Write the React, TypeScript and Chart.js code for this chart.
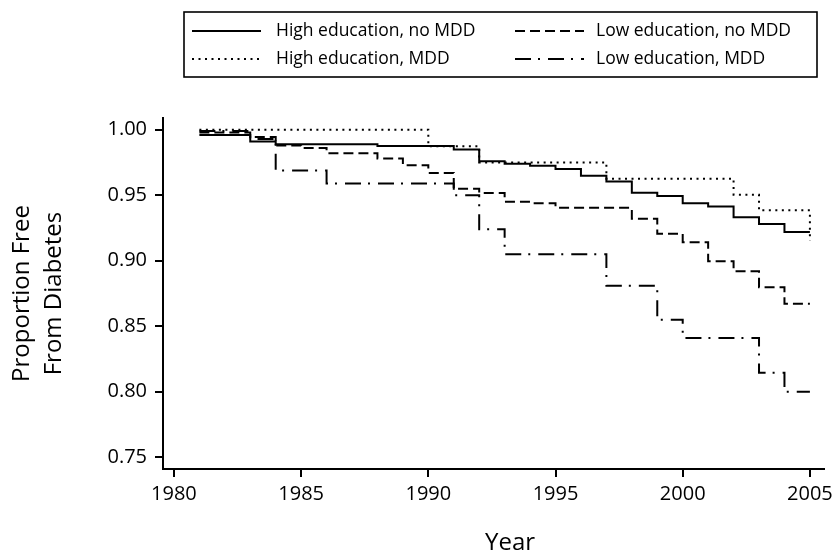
import React, { useEffect, useRef } from "react";
import { Chart, registerables } from "chart.js";

Chart.register(...registerables);

// ---- Data ----
const xTickValues = [1980, 1985, 1990, 1995, 2000, 2005];
const yTickValues = [0.75, 0.8, 0.85, 0.9, 0.95, 1.0];

const seriesLabels = [
  "High education, no MDD",
  "High education, MDD",
  "Low education, no MDD",
  "Low education, MDD",
];
const xAxisTitle = "Year";
const yAxisTitle = ["Proportion Free", "From Diabetes"];

const highNoMddYears = [1981, 1983, 1984, 1988, 1991, 1992, 1993, 1994, 1995, 1996, 1997, 1998, 1999, 2000, 2001, 2002, 2003, 2004, 2005];
const highNoMddValues = [0.996, 0.991, 0.989, 0.9876, 0.985, 0.976, 0.974, 0.9725, 0.97, 0.965, 0.9605, 0.952, 0.9495, 0.944, 0.9415, 0.9333, 0.928, 0.922, 0.922];

const highMddYears = [1981, 1990, 1992, 1997, 2002, 2003, 2005];
const highMddValues = [1.0, 0.9874, 0.975, 0.9627, 0.9504, 0.9385, 0.915];

const lowNoMddYears = [1981, 1983, 1984, 1985, 1986, 1988, 1989, 1990, 1991, 1992, 1993, 1994, 1995, 1998, 1999, 2000, 2001, 2002, 2003, 2004, 2005];
const lowNoMddValues = [0.998, 0.9945, 0.988, 0.986, 0.982, 0.978, 0.973, 0.967, 0.955, 0.9517, 0.945, 0.944, 0.9405, 0.932, 0.9206, 0.9142, 0.8997, 0.892, 0.8798, 0.8671, 0.8671];

const lowMddYears = [1981, 1983, 1984, 1986, 1991, 1992, 1993, 1997, 1999, 2000, 2003, 2004, 2005];
const lowMddValues = [0.999, 0.993, 0.969, 0.959, 0.95, 0.924, 0.905, 0.881, 0.855, 0.841, 0.8144, 0.8, 0.8];

// ---- Styles ----
const FONT = "'Open Sans', 'DejaVu Sans', sans-serif";
const INK = "#000000";
const dashPatterns = [[], [2, 4.5], [10, 5], [16, 7, 2, 8]];

const toPoints = (xs: number[], ys: number[]) => xs.map((x, i) => ({ x, y: ys[i] }));

const legendPlugin = {
  id: "boxLegend",
  afterDraw(chart: any) {
    const ctx = chart.ctx as CanvasRenderingContext2D;
    ctx.save();
    ctx.strokeStyle = INK;
    ctx.lineWidth = 1.6;
    ctx.setLineDash([]);
    ctx.strokeRect(184, 12, 633, 65);
    const cols = [{ lx: 192, tx: 276 }, { lx: 515, tx: 596 }];
    const rows = [31, 59];
    const order = [
      { ds: 0, c: 0, r: 0 },
      { ds: 1, c: 0, r: 1 },
      { ds: 2, c: 1, r: 0 },
      { ds: 3, c: 1, r: 1 },
    ];
    ctx.font = `17.5px ${FONT}`;
    ctx.textBaseline = "middle";
    ctx.textAlign = "left";
    ctx.fillStyle = INK;
    for (const o of order) {
      const col = cols[o.c];
      const y = rows[o.r];
      ctx.setLineDash(dashPatterns[o.ds]);
      ctx.lineWidth = 2;
      ctx.beginPath();
      ctx.moveTo(col.lx, y);
      ctx.lineTo(col.lx + 69, y);
      ctx.stroke();
      ctx.setLineDash([]);
      ctx.fillText(seriesLabels[o.ds], col.tx, y);
    }
    // x-axis title
    ctx.font = `24px ${FONT}`;
    ctx.textAlign = "center";
    ctx.fillText(xAxisTitle, 510, 543);
    ctx.restore();
  },
};

export default function App() {
  const ref = useRef<HTMLCanvasElement | null>(null);
  useEffect(() => {
    if (!ref.current) return;
    const series = [
      toPoints(highNoMddYears, highNoMddValues),
      toPoints(highMddYears, highMddValues),
      toPoints(lowNoMddYears, lowNoMddValues),
      toPoints(lowMddYears, lowMddValues),
    ];
    const chart = new Chart(ref.current, {
      type: "line",
      data: {
        datasets: series.map((data, i) => ({
          label: seriesLabels[i],
          data,
          stepped: "before" as const,
          borderColor: INK,
          borderWidth: 2,
          borderDash: dashPatterns[i],
          pointRadius: 0,
          fill: false,
        })),
      },
      options: {
        responsive: false,
        maintainAspectRatio: false,
        animation: false,
        events: [],
        layout: { padding: { top: 118, right: 11, left: 0, bottom: 0 } },
        plugins: { legend: { display: false }, tooltip: { enabled: false }, title: { display: false } },
        scales: {
          x: {
            type: "linear",
            min: 1979.57,
            max: 2005.55,
            afterBuildTicks: (scale: any) => {
              scale.ticks = xTickValues.map((v) => ({ value: v }));
            },
            afterFit: (scale: any) => {
              scale.height = 85;
            },
            ticks: {
              color: INK,
              font: { family: FONT, size: 20 },
              padding: 5,
              maxRotation: 0,
              autoSkip: false,
              callback: (v: any) => String(v),
            },
            grid: { display: true, drawOnChartArea: false, drawTicks: true, tickLength: 8, color: INK, lineWidth: 2 },
            border: { display: true, color: INK, width: 2 },
            title: { display: false },
          },
          y: {
            type: "linear",
            min: 0.741,
            max: 1.009,
            afterBuildTicks: (scale: any) => {
              scale.ticks = yTickValues.map((v) => ({ value: v }));
            },
            afterFit: (scale: any) => {
              scale.width = 163;
            },
            ticks: {
              color: INK,
              font: { family: FONT, size: 20 },
              padding: 8,
              autoSkip: false,
              callback: (v: any) => Number(v).toFixed(2),
            },
            grid: { display: true, drawOnChartArea: false, drawTicks: true, tickLength: 8, color: INK, lineWidth: 2 },
            border: { display: true, color: INK, width: 2 },
            title: {
              display: true,
              text: yAxisTitle,
              color: INK,
              font: { family: FONT, size: 24, lineHeight: 1.3 },
              padding: { top: 7, bottom: 0 },
            },
          },
        },
      },
      plugins: [legendPlugin],
    });
    return () => chart.destroy();
  }, []);

  return (
    <div style={{ position: "fixed", left: 0, top: 0, width: 838, height: 554, background: "#fff" }}>
      <canvas ref={ref} width={838} height={554} style={{ display: "block", width: 838, height: 554 }} />
    </div>
  );
}
